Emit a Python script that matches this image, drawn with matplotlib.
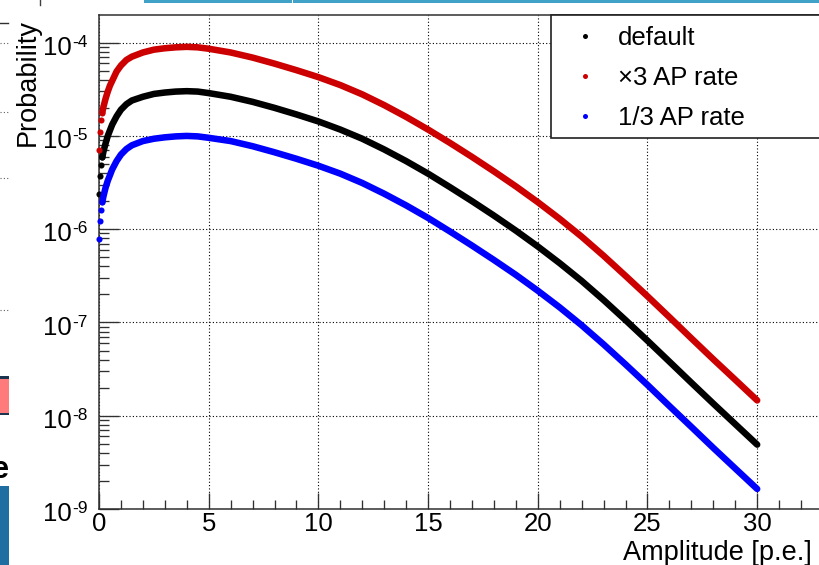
import matplotlib
matplotlib.use('Agg')
import matplotlib.pyplot as plt
from matplotlib.ticker import MultipleLocator, LogLocator, NullFormatter
from matplotlib.patches import Rectangle
from matplotlib.lines import Line2D

plt.rcParams['font.family'] = ['Liberation Sans', 'DejaVu Sans']

# ---------------- data ----------------
amplitude = [0, 0.05, 0.1, 0.15, 0.2, 0.3, 0.4, 0.5, 0.6, 0.8, 1.0, 1.25, 1.5,
             2, 2.5, 3, 3.5, 4, 4.5, 5,
             6, 7, 8, 9, 10, 11, 12, 13, 14, 15, 16, 17, 18, 19, 20,
             21, 22, 23, 24, 25, 26, 27, 28, 29, 30]

prob_default = [2.40e-6, 3.72e-6, 4.90e-6, 5.89e-6, 6.76e-6, 8.32e-6, 1.00e-5, 1.15e-5,
                1.32e-5, 1.62e-5, 1.91e-5, 2.19e-5, 2.40e-5, 2.63e-5, 2.82e-5, 2.92e-5,
                2.99e-5, 3.02e-5, 2.99e-5, 2.88e-5,
                2.63e-5, 2.32e-5, 2.00e-5, 1.70e-5, 1.43e-5, 1.17e-5, 9.33e-6, 7.16e-6,
                5.37e-6, 3.94e-6, 2.82e-6, 2.00e-6, 1.40e-6, 9.66e-7, 6.53e-7,
                4.32e-7, 2.79e-7, 1.74e-7, 1.06e-7, 6.38e-8, 3.80e-8, 2.26e-8, 1.35e-8,
                8.13e-9, 4.90e-9]

prob_x3 = [7.08e-6, 1.10e-5, 1.48e-5, 1.78e-5, 2.04e-5, 2.51e-5, 2.99e-5, 3.47e-5,
           3.89e-5, 4.90e-5, 5.69e-5, 6.53e-5, 7.08e-5, 7.85e-5, 8.41e-5, 8.71e-5,
           8.91e-5, 9.02e-5, 8.91e-5, 8.61e-5,
           7.85e-5, 6.92e-5, 5.96e-5, 5.07e-5, 4.27e-5, 3.51e-5, 2.79e-5, 2.14e-5,
           1.60e-5, 1.17e-5, 8.41e-6, 5.96e-6, 4.17e-6, 2.88e-6, 1.95e-6,
           1.29e-6, 8.32e-7, 5.19e-7, 3.16e-7, 1.91e-7, 1.14e-7, 6.76e-8, 4.03e-8,
           2.43e-8, 1.46e-8]

prob_third = [7.94e-7, 1.23e-6, 1.62e-6, 1.95e-6, 2.24e-6, 2.79e-6, 3.31e-6, 3.80e-6,
              4.37e-6, 5.37e-6, 6.31e-6, 7.24e-6, 7.94e-6, 8.81e-6, 9.33e-6, 9.66e-6,
              9.89e-6, 1.00e-5, 9.89e-6, 9.55e-6,
              8.81e-6, 7.76e-6, 6.68e-6, 5.69e-6, 4.79e-6, 3.94e-6, 3.13e-6, 2.40e-6,
              1.80e-6, 1.32e-6, 9.44e-7, 6.68e-7, 4.68e-7, 3.24e-7, 2.19e-7,
              1.45e-7, 9.33e-8, 5.82e-8, 3.55e-8, 2.14e-8, 1.27e-8, 7.59e-9, 4.52e-9,
              2.72e-9, 1.64e-9]

series_labels = ['default', '\u00d73 AP rate', '1/3 AP rate']
series_colors = ['#000000', '#cc0000', '#0000ff']

x_ticks = [0, 5, 10, 15, 20, 25, 30]
x_tick_labels = ['0', '5', '10', '15', '20', '25', '30']
y_decades = [1e-9, 1e-8, 1e-7, 1e-6, 1e-5, 1e-4]
y_exponents = ['-9', '-8', '-7', '-6', '-5', '-4']

# ---------------- figure ----------------
W, H = 819, 565
fig = plt.figure(figsize=(W / 100, H / 100), dpi=100)
fig.patch.set_facecolor('white')

AX_L, AX_R, AX_T, AX_B = 99, 823, 15, 509
ax = fig.add_axes([AX_L / W, (H - AX_B) / H, (AX_R - AX_L) / W, (AX_B - AX_T) / H])
ax.set_yscale('log')
ax.set_xlim(0, 33)
ax.set_ylim(1e-9, 1.98e-4)

spine_c = '#303030'
for s in ax.spines.values():
    s.set_color(spine_c)
    s.set_linewidth(1.1)

# grid
ax.grid(True, which='major', color='black', linestyle=(0, (1, 2)), linewidth=0.8, zorder=0)
ax.set_axisbelow(True)

# ticks
ax.set_xticks(x_ticks)
ax.set_xticklabels(x_tick_labels, fontsize=18.5)
ax.xaxis.set_minor_locator(MultipleLocator(1))
ax.set_yticks(y_decades)
ax.yaxis.set_minor_locator(LogLocator(base=10, subs=[2, 3, 4, 5, 6, 7, 8, 9], numticks=20))
ax.yaxis.set_minor_formatter(NullFormatter())
ax.tick_params(axis='both', which='both', direction='in', top=False, right=False,
               color=spine_c, width=0.95)
ax.tick_params(axis='x', which='major', length=11.5, pad=2.5)
ax.tick_params(axis='x', which='minor', length=6.5)
ax.tick_params(axis='y', which='major', length=14.4, labelleft=False)
ax.tick_params(axis='y', which='minor', length=7.4)

for v, e in zip(y_decades, y_exponents):
    ax.annotate('10', xy=(0, v), xycoords=('axes fraction', 'data'),
                xytext=(-19.4, -8.8), textcoords='offset points',
                ha='right', va='baseline', fontsize=18.5, annotation_clip=False)
    ax.annotate(e, xy=(0, v), xycoords=('axes fraction', 'data'),
                xytext=(-19.4, -3.0), textcoords='offset points',
                ha='left', va='baseline', fontsize=12.5, annotation_clip=False)

# data
for yv, c in zip([prob_default, prob_x3, prob_third], series_colors):
    ax.plot(amplitude[3:], yv[3:], color=c, lw=4.7, solid_capstyle='round',
            solid_joinstyle='round', zorder=3)
    ax.plot(amplitude[:4], yv[:4], ls='none', marker='o', ms=4.4, color=c,
            mec='none', zorder=3, clip_on=False)

# legend (frame drawn as a box attached to top of axes)
lx0 = (551 - AX_L) / (AX_R - AX_L)
ly0 = (AX_B - 138) / (AX_B - AX_T)
ax.add_patch(Rectangle((lx0, ly0), 1.05 - lx0, 1.0 - ly0, transform=ax.transAxes,
                       facecolor='white', edgecolor='#202020', lw=1.2,
                       clip_on=False, zorder=5))
handles = [Line2D([], [], ls='none', marker='o', ms=3.6, color=c, mec='none')
           for c in series_colors]
leg = ax.legend(handles, series_labels, loc='upper left',
                bbox_to_anchor=((572 - AX_L) / (AX_R - AX_L), (AX_B - 26) / (AX_B - AX_T)),
                frameon=False, fontsize=18.5, handlelength=1.0, handletextpad=0.78,
                borderpad=0, borderaxespad=0, labelspacing=0.63, numpoints=1)
leg.set_zorder(6)

# axis titles
fig.text(27.5 / W, 1 - 19 / H, 'Probability', rotation=90, ha='center', va='top',
         fontsize=19.5)
fig.text(812 / W, 1 - 560 / H, 'Amplitude [p.e.]', ha='right', va='baseline',
         fontsize=19.5)

# ---------------- surrounding slide fragments ----------------
def frect(x0, y0, x1, y1, **kw):
    fig.add_artist(Rectangle((x0 / W, 1 - y1 / H), (x1 - x0) / W, (y1 - y0) / H,
                             transform=fig.transFigure, **kw))

frect(144, 0, 819, 2.5, facecolor='#3fa2c6', edgecolor='none')
frect(291.5, 0, 293, 2.5, facecolor='white', edgecolor='none')
fig.add_artist(Line2D([40 / W, 40 / W], [1, 1 - 5 / H], transform=fig.transFigure,
                      color='#404040', lw=1))
fig.add_artist(Line2D([0, 8 / W], [1 - 23 / H, 1 - 23 / H], transform=fig.transFigure,
                      color='#303030', lw=1))
for yy in [43, 112, 178, 310]:
    fig.add_artist(Line2D([0, 8 / W], [1 - yy / H, 1 - yy / H], transform=fig.transFigure,
                          color='#606060', lw=0.8, linestyle=(0, (1, 2))))
frect(0, 378, 9, 414, facecolor='#ff7b7b', edgecolor='none')
frect(0, 376, 9, 379, facecolor='#1b3550', edgecolor='none')
frect(0, 413, 9, 415, facecolor='#1b3550', edgecolor='none')
fig.text(9 / W, 1 - 478 / H, 'e', ha='right', va='baseline', fontsize=22,
         fontweight='bold')
frect(0, 486, 9, 565, facecolor='#1f6ea2', edgecolor='none')

fig.savefig('out.png', dpi=100)
